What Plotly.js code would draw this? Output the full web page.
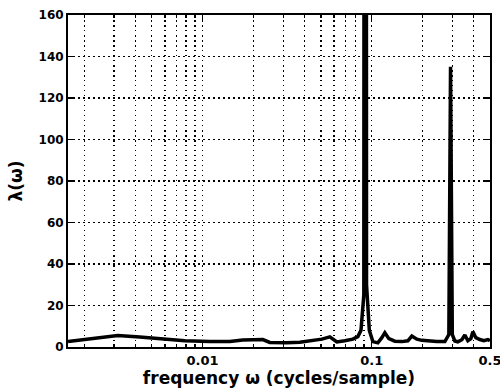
<!DOCTYPE html>
<html>
<head>
<meta charset="utf-8">
<script src="https://cdn.plot.ly/plotly-3.0.1.min.js"></script>
<style>
  html, body { margin: 0; padding: 0; background: #ffffff; }
  #chart { width: 500px; height: 392px; }
</style>
</head>
<body>
<div id="chart"></div>
<script>
// Spectrum estimate: frequency (cycles/sample) and lambda(omega)
const frequency = [
  0.0016, 0.00215, 0.00315, 0.00425, 0.00559, 0.00785, 0.01103, 0.01449,
  0.01729, 0.02121, 0.02271, 0.02497, 0.03148, 0.03758, 0.04307, 0.05072,
  0.05654, 0.0622, 0.06936, 0.07734, 0.08279, 0.0864, 0.0898, 0.0917, 0.0932,
  0.0968, 0.1016, 0.1087, 0.1148, 0.1196, 0.1263, 0.137, 0.1508, 0.1635,
  0.1727, 0.1849, 0.1978, 0.2118, 0.2427, 0.2707, 0.2782, 0.2858,
  0.2925, 0.2997, 0.3101, 0.323, 0.3412, 0.3554, 0.3703, 0.3857,
  0.3963, 0.4128, 0.4359, 0.4603, 0.4862, 0.5
];
const lambda = [
  2.6, 3.8, 5.5, 4.8, 3.9, 3.0, 2.7, 2.7,
  3.4, 3.8, 3.6, 2.2, 2.0, 2.3, 2.9, 3.8,
  4.9, 2.4, 3.0, 3.8, 5.0, 8, 25, 1500, 30,
  8, 2.6, 2.0, 4.5, 6.9, 4.0, 2.8, 2.6, 3.0,
  5.3, 3.8, 3.2, 2.9, 2.6, 2.6, 4.0, 6,
  135, 6, 2.9, 2.5, 3.5, 5.8, 3.0, 4.0,
  7.4, 4.5, 3.6, 3.0, 3.6, 3.0
];

// Labelled decades and the dotted log grid between them
const xTickVals = [0.01, 0.1, 0.5];
const xTickText = ['0.01', '0.1', '0.5'];
const xMinorVals = [
  0.002, 0.003, 0.004, 0.005, 0.006, 0.007, 0.008, 0.009,
  0.02, 0.03, 0.04, 0.05, 0.06, 0.07, 0.08, 0.09,
  0.2, 0.3, 0.4
];
const yTickVals = [0, 20, 40, 60, 80, 100, 120, 140, 160];

const FONT = 'DejaVu Sans, Arial, sans-serif';
const dotted = '1.5px,3.5px';

const trace = {
  x: frequency,
  y: lambda,
  type: 'scatter',
  mode: 'lines',
  line: { color: '#000000', width: 3.5 },
  hoverinfo: 'skip'
};

const layout = {
  width: 500,
  height: 392,
  margin: { l: 68, r: 10, t: 15, b: 45 },
  paper_bgcolor: '#ffffff',
  plot_bgcolor: '#ffffff',
  showlegend: false,
  font: { family: FONT, color: '#000000' },
  xaxis: {
    type: 'log',
    range: [Math.log10(0.0016), Math.log10(0.5) + 0.0005],
    tickmode: 'array',
    tickvals: xTickVals,
    ticktext: xTickText,
    ticklabeloverflow: 'allow',
    ticks: 'inside',
    ticklen: 5,
    tickwidth: 1.5,
    tickcolor: '#000000',
    tickfont: { family: FONT, size: 13, color: '#000000', weight: 'bold' },
    showline: true,
    linecolor: '#000000',
    linewidth: 2,
    mirror: 'ticks',
    showgrid: true,
    gridcolor: '#000000',
    gridwidth: 1.5,
    griddash: dotted,
    minor: {
      tickmode: 'array',
      tickvals: xMinorVals,
      ticks: 'inside',
      ticklen: 3,
      tickcolor: '#000000',
      showgrid: true,
      gridcolor: '#000000',
      gridwidth: 1.5,
      griddash: dotted
    },
    zeroline: false,
    title: {
      text: 'frequency ω (cycles/sample)',
      font: { family: FONT, size: 17, color: '#000000', weight: 'bold' },
      standoff: 3
    }
  },
  yaxis: {
    range: [0, 160],
    tickmode: 'array',
    tickvals: yTickVals,
    ticks: 'inside',
    ticklen: 5,
    tickwidth: 1.5,
    tickcolor: '#000000',
    tickfont: { family: FONT, size: 12, color: '#000000', weight: 'bold' },
    showline: true,
    linecolor: '#000000',
    linewidth: 2,
    mirror: 'ticks',
    showgrid: true,
    gridcolor: '#000000',
    gridwidth: 1.5,
    griddash: dotted,
    zeroline: false,
    title: {
      text: 'λ(ω)',
      font: { family: FONT, size: 17, color: '#000000', weight: 'bold' },
      standoff: 12
    }
  }
};

Plotly.newPlot('chart', [trace], layout, { displayModeBar: false, staticPlot: true });
</script>
</body>
</html>
